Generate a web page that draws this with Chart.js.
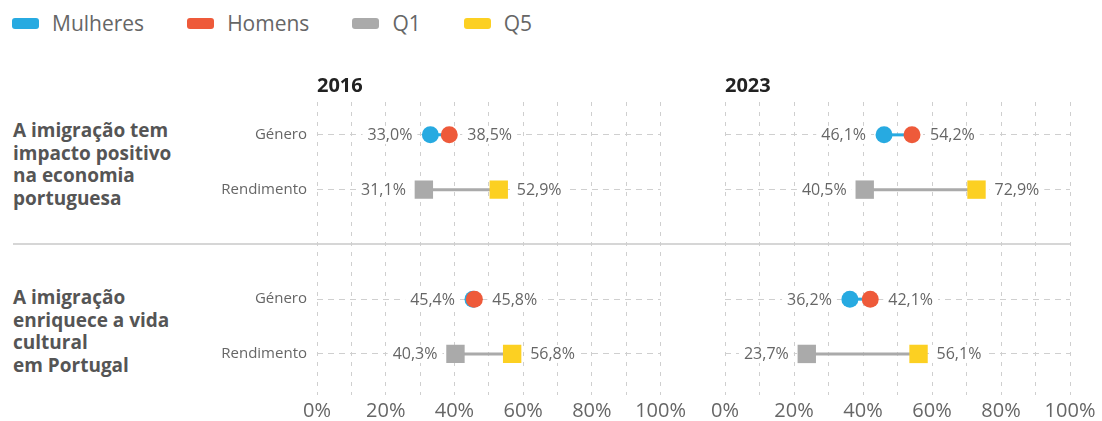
<!DOCTYPE html>
<html>
<head>
<meta charset="utf-8">
<script src="https://cdn.jsdelivr.net/npm/chart.js@4.4.1/dist/chart.umd.min.js"></script>
<style>
  body { margin: 0; background: #fff; font-family: "Open Sans", sans-serif; }
  #page { position: relative; width: 1102px; height: 421px; overflow: hidden; }
  #legend { position: absolute; left: 12px; top: 9px; display: flex; align-items: center; font-size: 21px; color: #666; }
  .item { display: flex; align-items: center; margin-right: 43px; }
  .box { width: 27px; height: 11px; border-radius: 3px; margin-right: 13px; }
  .group { position: absolute; left: 13px; font-weight: bold; font-size: 19px; line-height: 22.5px; color: #555; }
  #sep { position: absolute; left: 13px; top: 243px; width: 1057px; height: 2px; background: #d6d6d6; }
  .wrap { position: absolute; top: 0; height: 421px; }
</style>
</head>
<body>
<div id="page">
  <div id="legend"></div>
  <div id="sep"></div>
  <div class="group" id="g0" style="top:119px"></div>
  <div class="group" id="g1" style="top:286px"></div>
  <div class="wrap" style="left:0; width:690px"><canvas id="c2016"></canvas></div>
  <div class="wrap" style="left:690px; width:412px"><canvas id="c2023"></canvas></div>
</div>
<script>
// data
var questions = [
  ['A imigração tem', 'impacto positivo', 'na economia', 'portuguesa'],
  ['A imigração', 'enriquece a vida', 'cultural', 'em Portugal']
];
var rowNames = ['Género', 'Rendimento'];
var xTickLabels = ['0%', '20%', '40%', '60%', '80%', '100%'];

var mulheres2016 = [33.0, 45.4];
var homens2016   = [38.5, 45.8];
var q1_2016      = [31.1, 40.3];
var q5_2016      = [52.9, 56.8];

var mulheres2023 = [46.1, 36.2];
var homens2023   = [54.2, 42.1];
var q1_2023      = [40.5, 23.7];
var q5_2023      = [72.9, 56.1];

var BLUE = '#27aae1', RED = '#ee5a3a', GRAY = '#aaaaaa', YELLOW = '#fcd022';

Chart.defaults.font.family = '"Open Sans", sans-serif';
Chart.defaults.color = '#666';

// legend + group labels
var legendItems = [['Mulheres', BLUE], ['Homens', RED], ['Q1', GRAY], ['Q5', YELLOW]];
document.getElementById('legend').innerHTML = legendItems.map(function(it) {
  return '<div class="item"><div class="box" style="background:' + it[1] + '"></div>' + it[0] + '</div>';
}).join('');
questions.forEach(function(q, g) {
  document.getElementById('g' + g).innerHTML = q.join('<br>');
});

function rowY(g, r) { return g * 3 + r; }
var rowTicks = [];
var rowTickNames = [];
questions.forEach(function(q, g) {
  rowNames.forEach(function(n, r) { rowTicks.push(rowY(g, r)); rowTickNames.push(n); });
});

var valueLabels = {
  id: 'valueLabels',
  beforeDatasetsDraw: function(chart) {
    var ctx = chart.ctx;
    ctx.save();
    ctx.font = '16px "Open Sans"';
    ctx.textBaseline = 'middle';
    chart.data.datasets.forEach(function(ds, i) {
      if (!ds.side) return;
      var meta = chart.getDatasetMeta(i);
      meta.data.forEach(function(pt, j) {
        var txt = ds.data[j].x.toFixed(1).replace('.', ',') + '%';
        var w = ctx.measureText(txt).width;
        var x = ds.side < 0 ? pt.x - 18 - w : pt.x + 18;
        ctx.fillStyle = '#fff';
        ctx.fillRect(x - 5, pt.y - 9, w + 10, 18);
        ctx.fillStyle = '#666';
        ctx.fillText(txt, x, pt.y + 1);
      });
    });
    ctx.restore();
  }
};

function makeChart(id, year, m, h, q1, q5, yWidth, rightPad, showRows) {
  var datasets = [];
  questions.forEach(function(q, g) {
    datasets.push({ data: [{x: m[g], y: rowY(g, 0)}, {x: h[g], y: rowY(g, 0)}],
      showLine: true, borderColor: BLUE, borderWidth: 3, pointRadius: 0, order: 10 });
    datasets.push({ data: [{x: q1[g], y: rowY(g, 1)}, {x: q5[g], y: rowY(g, 1)}],
      showLine: true, borderColor: GRAY, borderWidth: 3, pointRadius: 0, order: 10 });
  });
  var series = [
    { label: 'Mulheres', vals: m, row: 0, color: BLUE, style: 'circle', r: 8.5, side: -1, order: 2 },
    { label: 'Homens', vals: h, row: 0, color: RED, style: 'circle', r: 8.5, side: 1, order: 1 },
    { label: 'Q1', vals: q1, row: 1, color: GRAY, style: 'rect', r: 13, side: -1, order: 2 },
    { label: 'Q5', vals: q5, row: 1, color: YELLOW, style: 'rect', r: 13, side: 1, order: 1 }
  ];
  series.forEach(function(s) {
    datasets.push({
      label: s.label,
      data: s.vals.map(function(v, g) { return {x: v, y: rowY(g, s.row)}; }),
      pointStyle: s.style, pointRadius: s.r, pointHoverRadius: s.r,
      backgroundColor: s.color, borderWidth: 0, side: s.side, order: s.order
    });
  });

  return new Chart(document.getElementById(id), {
    type: 'scatter',
    data: { datasets: datasets },
    plugins: [valueLabels],
    options: {
      responsive: true,
      maintainAspectRatio: false,
      animation: false,
      events: [],
      layout: { padding: { top: 74, right: rightPad, bottom: 0, left: 0 } },
      plugins: {
        legend: { display: false },
        tooltip: { enabled: false },
        title: {
          display: true, text: year, align: 'start', fullSize: false,
          color: '#222', font: { size: 20, weight: 'bold' },
          padding: { top: 0, bottom: 4 }
        }
      },
      scales: {
        x: {
          type: 'linear', min: 0, max: 100,
          border: { display: false, dash: [4, 6] },   // v4: grid line dash lives on border
          grid: { color: '#cfcfcf', drawTicks: false, lineWidth: 1 },
          ticks: {
            stepSize: 10, padding: 4, font: { size: 20 }, color: '#666', maxRotation: 0, autoSkip: false,
            callback: function(v) { return v % 20 === 0 ? xTickLabels[v / 20] : ''; }
          },
          afterFit: function(s) { s.height = 26; }
        },
        y: {
          type: 'linear', reverse: true, min: -0.6, max: 4.75,
          border: { display: false, dash: [6, 5] },
          grid: { color: '#cfcfcf', drawTicks: false, lineWidth: 1 },
          afterBuildTicks: function(s) { s.ticks = rowTicks.map(function(v) { return {value: v}; }); },
          ticks: {
            display: showRows, padding: 10, font: { size: 15 }, color: '#666',
            callback: function(v, i) { return rowTickNames[i]; }
          },
          afterFit: function(s) { s.width = yWidth; }
        }
      }
    }
  });
}

var chart2016 = makeChart('c2016', '2016', mulheres2016, homens2016, q1_2016, q5_2016, 317, 27, true);
var chart2023 = makeChart('c2023', '2023', mulheres2023, homens2023, q1_2023, q5_2023, 35, 32, false);
</script>
</body>
</html>
